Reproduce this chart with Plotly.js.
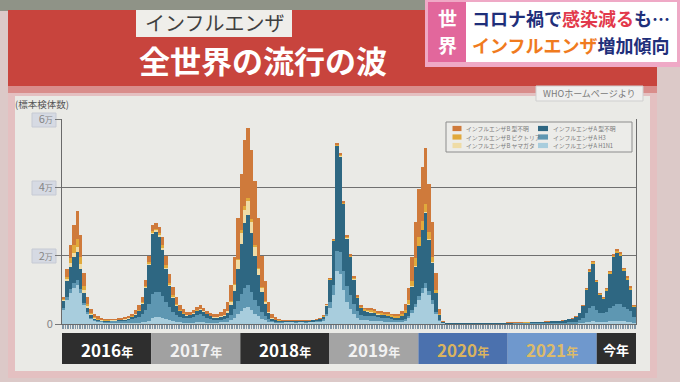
<!DOCTYPE html>
<html>
<head>
<meta charset="utf-8">
<script src="https://cdn.plot.ly/plotly-3.0.1.min.js"></script>
<style>html,body{margin:0;padding:0;background:#dcc9c8;}#chart{width:680px;height:382px;}</style>
</head>
<body>
<div id="chart"></div>
<script>
// ---- data: biweekly specimen counts (thousands), Jan 2016 - Jun 2022 ----
const periodStart = '2016-01-08';
const periodDays = 14;

const h1n1 = [
  4, 7, 9, 10.5, 11.5, 9, 5.5, 3, 1.5, 0.9, 0.6, 0.45, 0.4,
  0.4, 0.4, 0.4, 0.4, 0.35, 0.35, 0.35, 0.35, 0.4, 0.4, 0.5, 0.6, 0.8,
  1.8, 2, 2, 1.8, 1.5, 1.1, 0.8, 0.6, 0.5, 0.4, 0.35, 0.35, 0.4,
  0.45, 0.5, 0.45, 0.4, 0.4, 0.4, 0.4, 0.45, 0.5, 0.7, 1.1, 1.8, 2.8,
  3.8, 4.6, 5, 4, 3, 2.3, 1.6, 1.1, 0.7, 0.45, 0.4, 0.4, 0.4,
  0.45, 0.45, 0.45, 0.4, 0.45, 0.45, 0.4, 0.45, 0.5, 0.55, 0.65, 1.0, 2.2,
  4.8, 8.5, 15.5, 14.5, 10, 6.5, 4.5, 3, 1.8, 1.2, 1.1, 1.1, 1.0,
  0.9, 0.8, 0.75, 0.7, 0.7, 0.6, 0.55, 0.55, 0.7, 1.0, 1.8, 3.3, 5,
  7, 9, 10.5, 8.5, 6, 3, 0.9, 0.2, 0.08, 0.05, 0.04, 0.05, 0.04,
  0.05, 0.04, 0.05, 0.04, 0.05, 0.05, 0.04, 0.05, 0.04, 0.05, 0.04, 0.05, 0.05,
  0.05, 0.05, 0.05, 0.05, 0.05, 0.05, 0.05, 0.05, 0.05, 0.05, 0.05, 0.05, 0.05,
  0.05, 0.05, 0.05, 0.06, 0.07, 0.08, 0.1, 0.12, 0.18, 0.3, 0.5, 0.7, 0.8,
  0.6, 0.5, 0.5, 0.6, 0.8, 0.9, 1, 1, 0.8, 0.7, 0.6, 0.3
];
const h3 = [
  0.6, 1, 1.3, 1.5, 1.5, 1.2, 0.7, 0.4, 0.3, 0.3, 0.3, 0.3, 0.3,
  0.3, 0.35, 0.35, 0.45, 0.5, 0.6, 0.8, 1.0, 1.3, 1.7, 2.3, 3.5, 5,
  7, 7.5, 7.5, 6.5, 5, 3.8, 2.8, 2.1, 1.6, 1.4, 1.3, 1.4, 1.7,
  2.1, 2.3, 2.0, 1.5, 1.1, 0.9, 0.8, 0.8, 0.9, 1.1, 1.6, 2.5, 3.8,
  5, 6, 6.5, 5.5, 4, 3, 2, 1.3, 0.8, 0.4, 0.3, 0.2, 0.2,
  0.2, 0.2, 0.2, 0.2, 0.2, 0.2, 0.2, 0.2, 0.2, 0.22, 0.25, 0.35, 0.8,
  1.7, 3, 6, 6.5, 5.5, 4.5, 4, 3, 2, 1.4, 1.3, 1.3, 1.3,
  1.3, 1.2, 1.1, 1.1, 1.0, 0.8, 0.7, 0.6, 0.6, 0.6, 0.6, 0.8, 1,
  1.2, 1.4, 1.5, 1.2, 1, 0.5, 0.2, 0.05, 0.02, 0.04, 0.05, 0.04, 0.05,
  0.04, 0.05, 0.05, 0.04, 0.05, 0.05, 0.06, 0.05, 0.06, 0.07, 0.06, 0.08, 0.08,
  0.08, 0.09, 0.1, 0.1, 0.1, 0.11, 0.12, 0.12, 0.13, 0.14, 0.15, 0.2, 0.2,
  0.25, 0.25, 0.3, 0.3, 0.35, 0.4, 0.45, 0.6, 0.9, 1.5, 2.8, 4, 4.5,
  3.5, 2.8, 2.6, 3, 3.8, 4.5, 5, 5, 4.2, 3.8, 3.2, 1.8
];
const aUnknown = [
  2, 4.5, 6.5, 7.5, 8, 6, 3, 1.4, 0.7, 0.4, 0.3, 0.25, 0.2,
  0.2, 0.2, 0.2, 0.25, 0.25, 0.3, 0.4, 0.6, 1.0, 1.7, 3.2, 6.5, 11.5,
  17.5, 17.5, 16, 13.5, 9.5, 6.2, 4.1, 2.6, 1.6, 1.1, 0.8, 0.75, 0.9,
  1.2, 1.4, 1.2, 0.9, 0.7, 0.6, 0.6, 0.7, 0.9, 1.4, 2.8, 5.5, 9.5,
  14.5, 19, 20.5, 17, 13, 9, 5.8, 3.4, 1.7, 0.75, 0.5, 0.35, 0.3,
  0.3, 0.3, 0.3, 0.28, 0.3, 0.3, 0.28, 0.3, 0.33, 0.36, 0.45, 0.75, 2.4,
  6.3, 12.7, 30.5, 28, 19.5, 14, 11, 7, 3.8, 2, 1.4, 1.2, 1.0,
  0.9, 0.75, 0.7, 0.7, 0.7, 0.6, 0.6, 0.65, 0.9, 1.6, 3.3, 6.8, 10.8,
  14.5, 17, 20.5, 15, 11, 5.5, 1.6, 0.35, 0.15, 0.1, 0.1, 0.12, 0.1,
  0.1, 0.12, 0.1, 0.1, 0.11, 0.1, 0.12, 0.12, 0.13, 0.14, 0.15, 0.16, 0.18,
  0.2, 0.2, 0.22, 0.22, 0.24, 0.25, 0.27, 0.28, 0.3, 0.32, 0.35, 0.4, 0.4,
  0.45, 0.45, 0.5, 0.6, 0.73, 0.87, 1.0, 1.3, 2.0, 3.4, 6.7, 10.6, 12.3,
  8.2, 5.1, 4.1, 6.2, 10.1, 14.1, 14.8, 13.8, 10.5, 8.5, 6.2, 2.8
];
const bYamagata = [
  0.3, 0.6, 1, 1.3, 1.5, 1.3, 0.8, 0.5, 0.3, 0.2, 0.1, 0.1, 0.1,
  0.1, 0.1, 0.1, 0.1, 0.1, 0.1, 0.1, 0.1, 0.1, 0.1, 0.15, 0.2, 0.3,
  0.4, 0.4, 0.5, 0.5, 0.5, 0.4, 0.3, 0.2, 0.15, 0.1, 0.1, 0.1, 0.1,
  0.1, 0.15, 0.15, 0.1, 0.1, 0.15, 0.2, 0.25, 0.35, 0.5, 1, 1.6, 2.5,
  3.3, 3.8, 4, 3.3, 2.5, 1.8, 1.1, 0.7, 0.3, 0.1, 0.05, 0.05, 0.03,
  0.02, 0.02, 0.02, 0.02, 0.02, 0.02, 0.02, 0.02, 0.02, 0.02, 0.02, 0.02, 0.05,
  0.05, 0.1, 0.2, 0.2, 0.2, 0.2, 0.2, 0.15, 0.1, 0.1, 0.1, 0.1, 0.1,
  0.1, 0.05, 0.05, 0.05, 0.05, 0.05, 0.05, 0.05, 0.05, 0.1, 0.1, 0.1, 0.2,
  0.2, 0.2, 0.2, 0.2, 0.1, 0.1, 0, 0, 0, 0, 0, 0, 0,
  0, 0, 0, 0, 0, 0, 0, 0, 0, 0, 0, 0, 0,
  0, 0, 0, 0, 0, 0, 0, 0, 0, 0, 0, 0, 0,
  0, 0, 0, 0, 0, 0, 0, 0, 0, 0, 0, 0, 0,
  0, 0, 0, 0, 0, 0, 0, 0, 0, 0, 0, 0
];
const bVictoria = [
  0.4, 0.8, 1.5, 2.2, 2.5, 2, 1.2, 0.7, 0.4, 0.3, 0.2, 0.15, 0.1,
  0.1, 0.1, 0.1, 0.1, 0.1, 0.1, 0.1, 0.15, 0.2, 0.3, 0.35, 0.4, 0.5,
  0.5, 0.5, 0.6, 0.7, 0.7, 0.6, 0.5, 0.4, 0.25, 0.2, 0.15, 0.1, 0.1,
  0.15, 0.15, 0.1, 0.1, 0.1, 0.1, 0.1, 0.1, 0.1, 0.1, 0.2, 0.3, 0.5,
  0.8, 1, 1, 0.9, 0.5, 0.4, 0.3, 0.2, 0.1, 0.05, 0.05, 0.05, 0.05,
  0.05, 0.05, 0.05, 0.05, 0.05, 0.05, 0.05, 0.05, 0.05, 0.05, 0.08, 0.1, 0.15,
  0.2, 0.2, 0.3, 0.3, 0.3, 0.3, 0.3, 0.3, 0.3, 0.3, 0.4, 0.5, 0.6,
  0.6, 0.55, 0.55, 0.5, 0.5, 0.45, 0.45, 0.5, 0.6, 0.8, 1.2, 1.6, 2.2,
  2.6, 2.6, 2.5, 2.1, 1.5, 0.8, 0.3, 0.1, 0.05, 0.05, 0.04, 0.05, 0.04,
  0.05, 0.04, 0.05, 0.04, 0.05, 0.04, 0.05, 0.04, 0.05, 0.04, 0.05, 0.05, 0.05,
  0.05, 0.05, 0.05, 0.05, 0.05, 0.05, 0.05, 0.05, 0.05, 0.05, 0.05, 0.05, 0.05,
  0.05, 0.05, 0.05, 0.05, 0.05, 0.05, 0.05, 0.08, 0.1, 0.15, 0.25, 0.35, 0.45,
  0.35, 0.3, 0.3, 0.35, 0.4, 0.5, 0.6, 0.6, 0.5, 0.5, 0.5, 0.3
];
const bUnknown = [
  0.7, 2.1, 3.7, 6, 8, 6.5, 3.8, 2, 1.3, 0.9, 0.8, 0.55, 0.5,
  0.4, 0.45, 0.45, 0.5, 0.5, 0.55, 0.65, 0.8, 1.0, 1.3, 1.5, 1.8, 1.9,
  1.8, 1.6, 1.9, 2.5, 2.8, 2.6, 2.3, 1.9, 1.4, 1.1, 0.8, 0.7, 0.8,
  0.9, 1.0, 0.9, 0.8, 0.7, 0.75, 0.9, 1.2, 1.75, 2.7, 4.8, 7.8, 11.9,
  16.6, 19.6, 20.5, 20.3, 19, 14.5, 9.2, 5.8, 2.9, 1.25, 0.7, 0.45, 0.32,
  0.18, 0.18, 0.18, 0.15, 0.18, 0.18, 0.15, 0.18, 0.2, 0.2, 0.25, 0.28, 0.4,
  0.45, 0.5, 0.5, 0.5, 0.5, 0.5, 0.5, 0.55, 0.5, 0.5, 0.5, 0.5, 0.6,
  0.6, 0.55, 0.55, 0.55, 0.55, 0.5, 0.55, 0.65, 1.05, 1.8, 3.5, 6.9, 10.8,
  14, 15.8, 16.3, 14, 10.4, 5.1, 1.5, 0.3, 0.1, 0.05, 0.05, 0.06, 0.05,
  0.05, 0.06, 0.05, 0.05, 0.06, 0.05, 0.05, 0.06, 0.05, 0.06, 0.06, 0.07, 0.07,
  0.07, 0.08, 0.08, 0.08, 0.09, 0.09, 0.09, 0.1, 0.1, 0.1, 0.1, 0.1, 0.1,
  0.1, 0.1, 0.1, 0.09, 0.1, 0.1, 0.1, 0.1, 0.12, 0.15, 0.25, 0.35, 0.45,
  0.35, 0.3, 0.3, 0.35, 0.4, 0.5, 0.6, 0.6, 0.5, 0.5, 0.5, 0.3
];

// stacking order bottom -> top
const seriesValues = [h1n1, h3, aUnknown, bYamagata, bVictoria, bUnknown];
const seriesNames = ['インフルエンザA H1N1', 'インフルエンザA H3', 'インフルエンザA 型不明',
                     'インフルエンザB ヤマガタ', 'インフルエンザB ビクトリア', 'インフルエンザB 型不明'];
const seriesColors = ['#a8cddd', '#5e97b2', '#2e6782', '#efdca6', '#e1a93c', '#cf7a3b'];

const yTickVals = [0, 20, 40, 60];
const yTickText = ['0', '2万', '4万', '6万'];

const yearLabels = ['2016年', '2017年', '2018年', '2019年', '2020年', '2021年', '今年'];
const yearEdges = ['2016-01-01', '2017-01-01', '2018-01-01', '2019-01-01', '2020-01-01', '2021-01-01', '2022-01-01', '2022-06-11'];
const yearFill = ['#2e2e2e', '#a1a1a1', '#2e2e2e', '#a4a4a4', '#4b71ae', '#6f98cd', '#2e2e2e'];
const yearText = ['#ffffff', '#f2f2f2', '#ffffff', '#f2f2f2', '#d9b35f', '#dcbb6a', '#ffffff'];

// ---- layout helpers (pixel -> paper) ----
const L = 62, R = 636, T = 119, B = 324;
const px = x => (x - L) / (R - L);
const py = y => (B - y) / (B - T);
const JP = '"Noto Sans CJK JP", "Noto Sans", sans-serif';

function rect(x0, y0, x1, y1, fill, extra) {
  return Object.assign({type: 'rect', xref: 'paper', yref: 'paper',
    x0: px(x0), x1: px(x1), y0: py(y1), y1: py(y0),
    fillcolor: fill, line: {width: 0}, layer: 'below'}, extra || {});
}
function label(text, x, y, size, color, extra) {
  return Object.assign({xref: 'paper', yref: 'paper', x: px(x), y: py(y), text: text,
    showarrow: false, xanchor: 'center', yanchor: 'middle', borderpad: 0,
    font: {family: JP, size: size, color: color}}, extra || {});
}

const traces = seriesValues.map((vals, i) => ({
  type: 'bar', name: seriesNames[i], y: vals,
  x0: periodStart, dx: periodDays * 86400000,
  marker: {color: seriesColors[i], line: {width: 0}},
  hoverinfo: 'skip', showlegend: false
}));

const shapes = [
  rect(0, 0, 680, 11, '#8f9387'),
  rect(8, 10, 657, 88, '#c8443d'),
  rect(8, 86, 657, 378, '#e4c0c1'),
  rect(8, 86, 657, 93, '#d98d8b'),
  rect(15, 96, 650, 371, '#eaeae6'),
  // title label box
  rect(136, 10, 292, 37, '#efeeea'),
  // source box
  rect(536, 86, 643, 101, '#efefee', {line: {color: '#cfcfcf', width: 1}}),
  // tick label boxes
  rect(32, 113, 56, 127, '#d6dae3', {line: {color: '#c6cad4', width: 1}}),
  rect(32, 181, 56, 195, '#d6dae3', {line: {color: '#c6cad4', width: 1}}),
  rect(32, 249, 56, 263, '#d6dae3', {line: {color: '#c6cad4', width: 1}}),
  // caption (top right)
  rect(425, 0, 680, 67, '#efa9c6', {layer: 'above'}),
  rect(428, 2, 466, 62, '#e2679c', {layer: 'above'}),
  rect(466, 2, 677, 62, '#ffffff', {layer: 'above'}),
  // legend frame
  rect(446, 122, 632, 152, '#ecece9', {layer: 'above', line: {color: '#8c8c8c', width: 1}})
];

// year band boxes, placed on the date axis
for (let i = 0; i < yearLabels.length; i++) {
  shapes.push({type: 'rect', xref: 'x', yref: 'paper', x0: yearEdges[i], x1: yearEdges[i + 1],
    y0: py(364), y1: py(333), fillcolor: yearFill[i], line: {width: 0}, layer: 'below'});
}

const annotations = [
  label('インフルエンザ', 214, 22.5, 20, '#3f3f3f'),
  label('全世界の流行の波', 263, 60, 31, '#ffffff', {font: {family: JP, size: 31, color: '#ffffff', weight: 'bold'}}),
  label('世', 447, 17, 19, '#ffffff', {font: {family: JP, size: 19, color: '#ffffff', weight: 'bold'}}),
  label('界', 447, 45, 19, '#ffffff', {font: {family: JP, size: 19, color: '#ffffff', weight: 'bold'}}),
  label('コロナ禍で<span style="color:#e2394b">感染減る</span>も…', 471, 18, 18, '#1f2f7a',
        {xanchor: 'left', font: {family: JP, size: 18, color: '#1f2f7a', weight: 'bold'}}),
  label('<span style="color:#f07b1e">インフルエンザ</span>増加傾向', 471, 45, 18, '#1f2f7a',
        {xanchor: 'left', font: {family: JP, size: 18, color: '#1f2f7a', weight: 'bold'}}),
  label('WHOホームページより', 589.5, 93.5, 9, '#7a7a7a'),
  label('(標本検体数)', 14, 104, 9.5, '#555555', {xanchor: 'left'})
];

// year labels on the date axis
for (let i = 0; i < yearLabels.length; i++) {
  const t0 = new Date(yearEdges[i]).getTime(), t1 = new Date(yearEdges[i + 1]).getTime();
  const mid = new Date((t0 + t1) / 2).toISOString().slice(0, 10);
  const txt = yearLabels[i] === '今年' ? yearLabels[i]
    : yearLabels[i].replace('年', '<span style="font-size:12px">年</span>');
  annotations.push({xref: 'x', yref: 'paper', x: mid, y: py(349), text: txt, showarrow: false,
    xanchor: 'center', yanchor: 'middle',
    font: {family: JP, size: yearLabels[i] === '今年' ? 13 : 17, color: yearText[i], weight: 'bold'}});
}

// legend (manual, two columns)
const legendOrder = [[5, 4, 3], [2, 1, 0]];
const colX = [[452.5, 461.5, 465], [538, 548, 552]];
const rowY = [128.5, 137, 145.5];
legendOrder.forEach((col, c) => col.forEach((si, r) => {
  shapes.push(rect(colX[c][0], rowY[r] - 2.6, colX[c][1], rowY[r] + 2.6, seriesColors[si], {layer: 'above'}));
  annotations.push(label(seriesNames[si], colX[c][2], rowY[r], 5.8, '#7b7b7b', {xanchor: 'left'}));
}));

const layout = {
  width: 680, height: 382,
  margin: {l: L, r: 680 - R, t: T, b: 382 - B, pad: 0},
  paper_bgcolor: '#dcc9c8', plot_bgcolor: 'rgba(0,0,0,0)',
  barmode: 'stack', bargap: 0,
  showlegend: false,
  xaxis: {type: 'date', range: ['2016-01-01', '2022-06-11'], showgrid: false, zeroline: false,
    showline: true, linecolor: '#6a6a6a', linewidth: 1,
    ticks: 'outside', tick0: '2016-01-01', dtick: 7 * 86400000, ticklen: 4, tickwidth: 1,
    tickcolor: '#8196a6', showticklabels: false},
  yaxis: {range: [0, 60], tickvals: yTickVals,
    ticktext: yTickText.map(t => t.replace('万', '<span style="font-size:8px">万</span>')),
    showgrid: true, gridcolor: '#707070', gridwidth: 1, zeroline: false,
    showline: true, linecolor: '#6a6a6a', linewidth: 1, mirror: true,
    ticks: 'outside', ticklen: 6, tickcolor: '#777777',
    tickfont: {family: JP, size: 11, color: '#858585'}},
  shapes: shapes,
  annotations: annotations
};

Plotly.newPlot('chart', traces, layout, {staticPlot: true, displayModeBar: false});
</script>
</body>
</html>
